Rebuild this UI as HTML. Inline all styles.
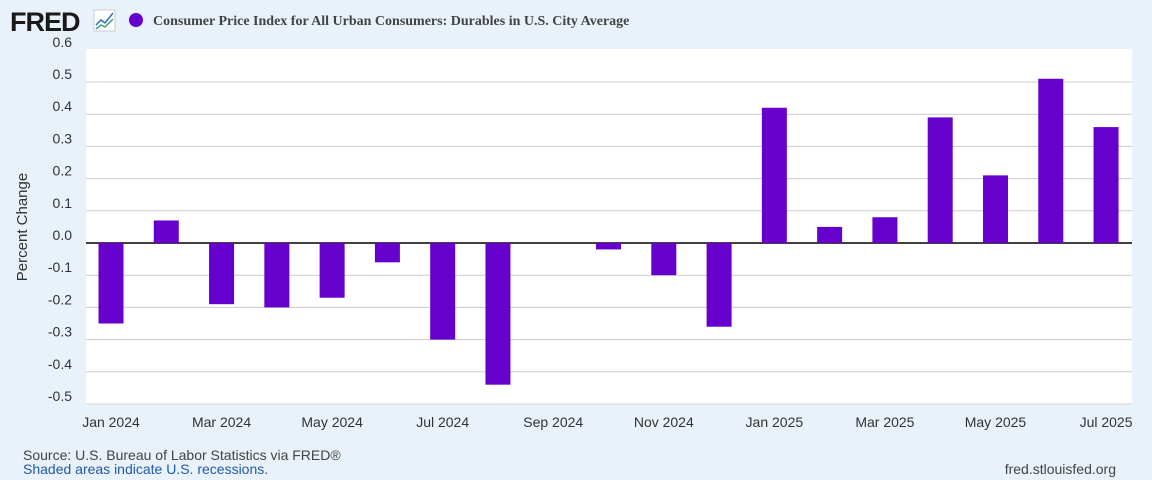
<!DOCTYPE html>
<html><head><meta charset="utf-8"><style>
body{margin:0;width:1152px;height:480px;background:#e9f1fa;font-family:"Liberation Sans",sans-serif;overflow:hidden}
svg{display:block}
</style></head><body>
<svg width="1152" height="480" id="chart">
<text x="10" y="31" font-size="27" font-weight="bold" fill="#1a1a1a" font-family="Liberation Sans" letter-spacing="-1">FRED</text>
<g><rect x="94" y="10" width="21" height="21" fill="#fff" stroke="#ccc"/><polyline points="96,25 101,20 105,23 113,13" fill="none" stroke="#2a6ebb" stroke-width="1.5"/><polyline points="96,29 101,25 105,27 113,19" fill="none" stroke="#3aa17e" stroke-width="1.5"/></g>
<circle cx="136" cy="20" r="7" fill="#6600cc"/>
<text x="153" y="25" font-size="14" font-weight="bold" fill="#444" font-family="Liberation Serif">Consumer Price Index for All Urban Consumers: Durables in U.S. City Average</text>
<rect x="86" y="49" width="1046" height="356" fill="#fff"/>
<g id="grid"></g><g id="bars"></g><g id="xt"></g>
<text transform="translate(27,227) rotate(-90)" text-anchor="middle" font-size="15" fill="#333">Percent Change</text>
<text x="23" y="460" font-size="14" fill="#444">Source: U.S. Bureau of Labor Statistics via FRED®</text>
<text x="23" y="474" font-size="14" fill="#1f5aa6">Shaded areas indicate U.S. recessions.</text>
<text x="1116" y="474" text-anchor="end" font-size="14" fill="#444">fred.stlouisfed.org</text>
</svg>
<script>
const months=["Jan 2024","Feb 2024","Mar 2024","Apr 2024","May 2024","Jun 2024","Jul 2024","Aug 2024","Sep 2024","Oct 2024","Nov 2024","Dec 2024","Jan 2025","Feb 2025","Mar 2025","Apr 2025","May 2025","Jun 2025","Jul 2025"];
const values=[-0.25,0.07,-0.19,-0.2,-0.17,-0.06,-0.3,-0.44,0,-0.02,-0.1,-0.26,0.42,0.05,0.08,0.39,0.21,0.51,0.36];
const yTicks=[0.6,0.5,0.4,0.3,0.2,0.1,0.0,-0.1,-0.2,-0.3,-0.4,-0.5];
const xTickLabels=["Jan 2024","Mar 2024","May 2024","Jul 2024","Sep 2024","Nov 2024","Jan 2025","Mar 2025","May 2025","Jul 2025"];
const NS="http://www.w3.org/2000/svg";
const y=v=>243-v*322;
const x=i=>111+i*55.28;
function mk(t,a,p){const e=document.createElementNS(NS,t);for(const k in a)e.setAttribute(k,a[k]);document.getElementById(p).appendChild(e);return e;}
yTicks.forEach(v=>{
  if(v!==0.6){const l=mk('line',{x1:86,x2:1132,y1:y(v),y2:y(v),stroke:v===0?'#000':'#ccc','stroke-width':v===0?1.5:1},'grid');
  
  }
  const t=mk('text',{x:72,y:y(v)-3,'text-anchor':'end','font-size':14,fill:'#333'},'grid');
  t.textContent=v.toFixed(1);
  
  
});
values.forEach((v,i)=>{
  const r=mk('rect',{x:x(i)-12.5,width:25,y:Math.min(y(v),y(0)),height:Math.abs(y(v)-y(0)),fill:'#6600cc'},'bars');
  
  
});
xTickLabels.forEach(lbl=>{
  const i=months.indexOf(lbl);
  const t=mk('text',{x:x(i),y:427,'text-anchor':'middle','font-size':14,fill:'#333'},'xt');
  t.textContent=lbl.replace(' ',' ');
  
  
});
</script>
</body></html>
